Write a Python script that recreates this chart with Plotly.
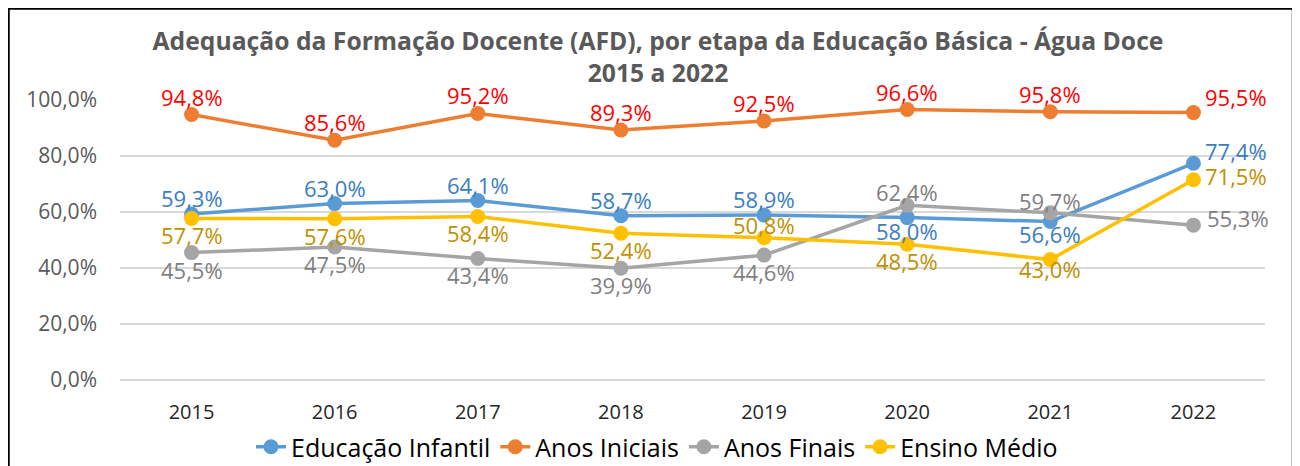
import plotly.graph_objects as go

years = ["2015", "2016", "2017", "2018", "2019", "2020", "2021", "2022"]
educacao_infantil = [59.3, 63.0, 64.1, 58.7, 58.9, 58.0, 56.6, 77.4]
anos_iniciais = [94.8, 85.6, 95.2, 89.3, 92.5, 96.6, 95.8, 95.5]
anos_finais = [45.5, 47.5, 43.4, 39.9, 44.6, 62.4, 59.7, 55.3]
ensino_medio = [57.7, 57.6, 58.4, 52.4, 50.8, 48.5, 43.0, 71.5]
y_ticks = [0, 20, 40, 60, 80, 100]

FONT = "Open Sans"

# label placement (style): (xshift, yshift, xanchor) per point
A = (0, 16, "center")      # above
AO = (0, 18, "center")     # above (orange)
B = (0, -17, "center")     # below
series = [
    ("Educação Infantil", educacao_infantil, "#5B9BD5", "#3A7EC0",
     [A, A, A, A, A, (0, -13, "center"), (0, -12, "center"), (10, 12, "left")]),
    ("Anos Iniciais", anos_iniciais, "#ED7D31", "#FF0000",
     [AO, AO, AO, AO, AO, AO, AO, (10, 16, "left")]),
    ("Anos Finais", anos_finais, "#A5A5A5", "#7F7F7F",
     [B, B, B, B, B, (0, 13, "center"), (0, 12, "center"), (12, 7, "left")]),
    ("Ensino Médio", ensino_medio, "#FFC000", "#BF9000",
     [B, B, B, B, (0, 13, "center"), B, (0, -9, "center"), (10, 4, "left")]),
]

fig = go.Figure()
annotations = []
for name, vals, color, tcolor, pos in series:
    fig.add_trace(go.Scatter(
        x=years, y=[v / 100 for v in vals], name=name,
        mode="lines+markers",
        line=dict(color=color, width=3.5),
        marker=dict(color=color, size=15),
        cliponaxis=False,
    ))
    for i, (v, (dx, dy, xa)) in enumerate(zip(vals, pos)):
        # category axis: position by category index of years[i]
        annotations.append(dict(
            x=i, y=v / 100, xref="x", yref="y",
            text=f"{v:.1f}".replace(".", ",") + "%",
            showarrow=False, xshift=dx, yshift=dy,
            xanchor=xa, yanchor="middle",
            font=dict(family=FONT, size=22, color=tcolor),
        ))

fig.update_layout(
    width=1300, height=466,
    margin=dict(l=112, r=43, t=92, b=94, autoexpand=False),
    paper_bgcolor="white", plot_bgcolor="white",
    separators=",.",
    font=dict(family=FONT),
    title=dict(
        text="Adequação da Formação Docente (AFD), por etapa da Educação Básica - Água Doce<br>2015 a 2022",
        x=0.5, xanchor="center", y=0.91, yanchor="middle",
        font=dict(family=FONT, size=24.7, color="#595959", weight="bold"),
    ),
    xaxis=dict(
        type="category", range=[-0.5, 7.5], showgrid=False, showline=False,
        ticks="", ticklabelstandoff=18, automargin=False,
        tickfont=dict(family=FONT, size=20, color="#262626"),
    ),
    yaxis=dict(
        range=[0, 1], tickvals=[t / 100 for t in y_ticks], tickformat=".1%",
        showgrid=True, gridcolor="#D9D9D9", gridwidth=2,
        zeroline=True, zerolinecolor="#D9D9D9", zerolinewidth=2,
        showline=False, ticks="", ticklabelstandoff=22, automargin=False,
        tickfont=dict(family=FONT, size=21, color="#595959"),
    ),
    legend=dict(
        orientation="h", x=(649 - 112) / 1145, xanchor="center",
        yref="container", y=(466 - 439) / 466, yanchor="middle",
        font=dict(family=FONT, size=25, color="#000000"),
        tracegroupgap=0,
    ),
    annotations=annotations,
    showlegend=True,
)

fig.add_shape(type="rect", xref="paper", yref="paper",
              x0=(0.5 - 112) / 1145, x1=(1285 - 112) / 1145,
              y0=(372 - 480) / 280, y1=(372 - 0.5) / 280,
              line=dict(color="#000000", width=2.5), fillcolor="rgba(0,0,0,0)")

fig.write_html("out.html")
